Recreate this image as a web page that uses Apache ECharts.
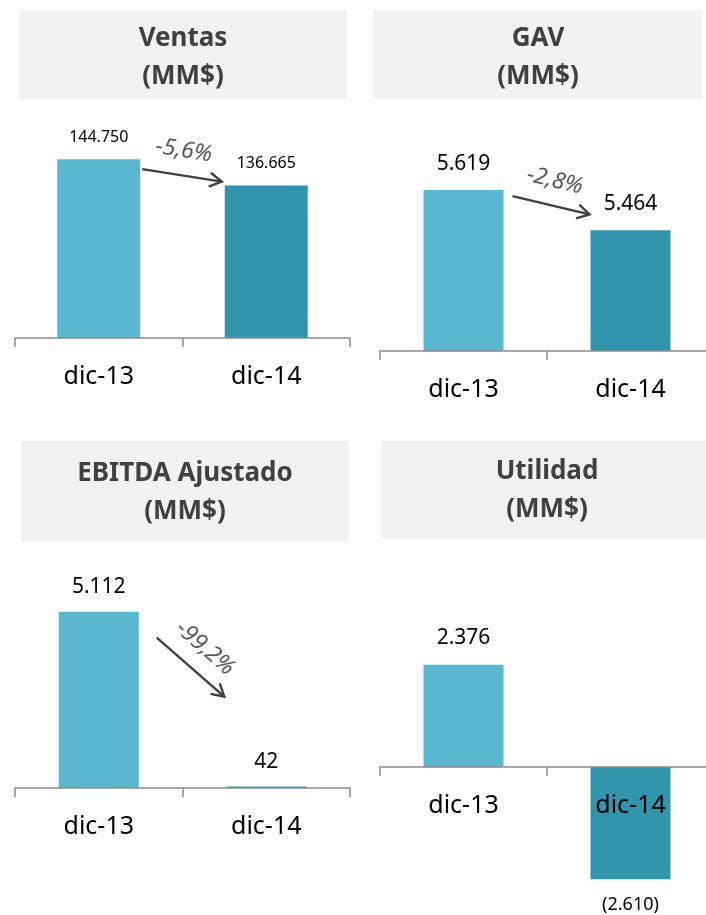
<!DOCTYPE html>
<html>
<head>
<meta charset="utf-8">
<script src="https://cdn.jsdelivr.net/npm/echarts@6/dist/echarts.min.js"></script>
<style>
  html, body { margin: 0; padding: 0; background: #fff; }
  #chart { width: 706px; height: 915px; }
</style>
</head>
<body>
<div id="chart"></div>
<script>
// datos
const categorias = ['dic-13', 'dic-14'];
const ventas = [144750, 136665];
const gav = [5619, 5464];
const ebitda = [5112, 42];
const utilidad = [2376, -2610];
const variaciones = ['-5,6%', '-2,8%', '-99,2%'];
const titulos = [
  ['Ventas', '(MM$)'],
  ['GAV', '(MM$)'],
  ['EBITDA Ajustado', '(MM$)'],
  ['Utilidad', '(MM$)']
];
const rangos = [[90000, 150000], [5000, 5800], [0, 6000], [-3000, 3000]];

const colores = ['#5BB7D0', '#3196AD'];
const fuente = 'Noto Sans';
const series_data = [ventas, gav, ebitda, utilidad];

const grids = [
  { left: 15, top: 142, width: 335, height: 196 },
  { left: 380, top: 143, width: 334, height: 208 },
  { left: 15, top: 581, width: 335, height: 207 },
  { left: 380, top: 638, width: 334, height: 258 }
].map(g => Object.assign(g, { outerBoundsMode: 'none', containLabel: false }));
const barWidths = [83, 80, 80, 80];
const labelSizes = [16, 21, 21, 21];
const labelDist = [14, 16, 14, 16];

function fmt(v) {
  const s = Math.abs(v).toString().replace(/\B(?=(\d{3})+(?!\d))/g, '.');
  return v < 0 ? '(' + s + ')' : s;
}

const chart = echarts.init(document.getElementById('chart'));

chart.setOption({
  animation: false,
  grid: grids,
  xAxis: grids.map((g, i) => {
    const r = rangos[i];
    // eje en el cero cuando el rango incluye negativos
    const off = r[0] < 0 ? -g.height * (0 - r[0]) / (r[1] - r[0]) : 0;
    return {
      type: 'category',
      gridIndex: i,
      data: categorias,
      z: 5,
      offset: off,
      axisLine: { show: true, onZero: false, lineStyle: { color: '#8c8c8c', width: 1.5 } },
      axisTick: { show: true, length: 9, lineStyle: { color: '#8c8c8c', width: 1.5 } },
      axisLabel: { fontSize: 25, color: '#000', fontFamily: fuente, margin: 26 }
    };
  }),
  yAxis: grids.map((g, i) => ({
    type: 'value',
    gridIndex: i,
    min: rangos[i][0],
    max: rangos[i][1],
    show: false,
    splitLine: { show: false }
  })),
  series: series_data.map((d, i) => ({
    type: 'bar',
    xAxisIndex: i,
    yAxisIndex: i,
    barWidth: barWidths[i],
    label: {
      show: true,
      position: 'top',
      distance: labelDist[i],
      fontSize: labelSizes[i],
      fontFamily: fuente,
      color: '#000',
      formatter: p => fmt(p.value)
    },
    data: d.map((v, j) => {
      const item = { value: v, itemStyle: { color: colores[j] } };
      if (v < 0) item.label = { position: 'bottom', fontSize: 18, distance: 17 };
      return item;
    })
  }))
});

// cajas de titulo
const cajas = [
  { x: 19, y: 10, w: 328, h: 89 },
  { x: 374, y: 10, w: 328, h: 89 },
  { x: 21, y: 441, w: 328, h: 101 },
  { x: 382, y: 441, w: 330, h: 98 }
];
const graphic = [];
cajas.forEach((c, i) => {
  graphic.push({
    type: 'rect', shape: { x: c.x, y: c.y, width: c.w, height: c.h },
    style: { fill: '#F2F2F2' }, z: 1
  });
  graphic.push({
    type: 'text', x: c.x + c.w / 2, y: c.y + c.h / 2 + (i < 2 ? 3 : 1), z: 2,
    style: {
      text: titulos[i].join('\n'), align: 'center', verticalAlign: 'middle',
      fontSize: 26, fontWeight: 'bold', fontFamily: fuente, fill: '#404040', lineHeight: 38
    }
  });
});

// flechas de variacion
const ajustes = [
  { s: [2, 10], e: [-3, -4] },
  { s: [9, 6], e: [-1, -16] },
  { s: [18, 26], e: [-2, -90] }
];
ajustes.forEach((a, i) => {
  const d = series_data[i];
  const hw = barWidths[i] / 2;
  const p0 = chart.convertToPixel({ gridIndex: i }, [0, d[0]]);
  const p1 = chart.convertToPixel({ gridIndex: i }, [1, d[1]]);
  const x0 = p0[0] + hw + a.s[0], y0 = p0[1] + a.s[1];
  const x1 = p1[0] - hw + a.e[0], y1 = p1[1] + a.e[1];
  const ang = Math.atan2(y1 - y0, x1 - x0);
  const head = 14, wing = Math.PI / 6;
  graphic.push({
    type: 'polyline', z: 10,
    shape: { points: [[x0, y0], [x1, y1]] },
    style: { stroke: '#404040', lineWidth: 2.4, fill: null }
  });
  graphic.push({
    type: 'polyline', z: 10,
    shape: { points: [
      [x1 - head * Math.cos(ang - wing), y1 - head * Math.sin(ang - wing)],
      [x1, y1],
      [x1 - head * Math.cos(ang + wing), y1 - head * Math.sin(ang + wing)]
    ] },
    style: { stroke: '#404040', lineWidth: 2.4, fill: null }
  });
  const ux = Math.cos(ang), uy = Math.sin(ang);
  const mx = (x0 + x1) / 2 + uy * 25, my = (y0 + y1) / 2 - ux * 25;
  graphic.push({
    type: 'text', x: mx - 2, y: my, rotation: -ang, z: 10,
    style: {
      text: variaciones[i], align: 'center', verticalAlign: 'middle',
      fontSize: 23, fontStyle: 'italic', fontFamily: fuente, fill: '#595959'
    }
  });
});

chart.setOption({ graphic: graphic });
</script>
</body>
</html>
